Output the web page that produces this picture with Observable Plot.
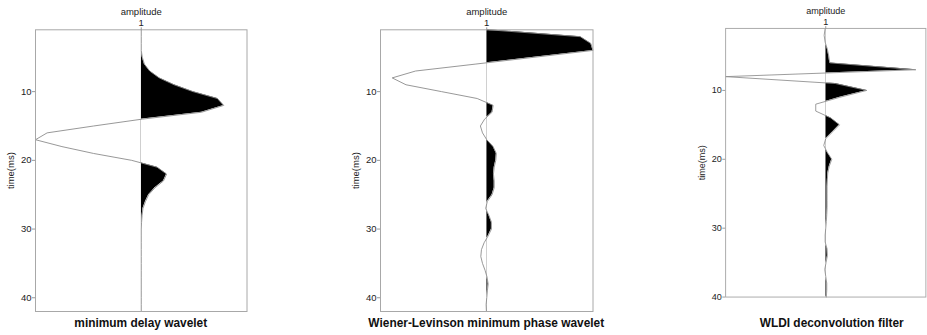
<!DOCTYPE html>
<html>
<head>
<meta charset="utf-8">
<script src="https://cdn.jsdelivr.net/npm/d3@7"></script>
<script src="https://cdn.jsdelivr.net/npm/@observablehq/plot@0.6"></script>
<style>
  html, body { margin: 0; padding: 0; background: #fff; }
  body { width: 927px; height: 335px; overflow: hidden; position: relative;
         font-family: "Liberation Sans", Arial, Helvetica, sans-serif; }
  .panel { position: absolute; top: 0; }
  .title { position: absolute; top: 315px; width: 320px; text-align: center;
           font-weight: bold; font-size: 11.9px; color: #111; line-height: 16px; }
</style>
</head>
<body>
<script>
// Sample times (ms) for each trace
const minDelayTime = [1,2,3,4,5,6,7,8,9,10,11,12,13,14,15,16,17,18,19,20,21,22,23,24,25,26,27,28,29,30,31,32,33,34,35,36,37,38,39,40,41,42];
const wienerTime   = [1,2,3,4,5,6,7,8,9,10,11,12,13,14,15,16,17,18,19,20,21,22,23,24,25,26,27,28,29,30,31,32,33,34,35,36,37,38,39,40,41,42];
const wldiTime     = [1,2,3,4,5,6,7,8,9,10,11,12,13,14,15,16,17,18,19,20,21,22,23,24,25,26,27,28,29,30,31,32,33,34,35,36,37,38,39,40];

// Normalised trace amplitudes
const minDelayAmp = [0,0,0,0,0.01,0.03,0.08,0.17,0.31,0.49,0.72,0.78,0.57,0.01,-0.45,-0.89,-1.0,-0.75,-0.45,-0.09,0.15,0.24,0.21,0.13,0.07,0.04,0.016,0.008,0.003,0,0,0,0,0,0,0,0,0,0,0,0,0];
const wienerAmp   = [0.02,0.88,0.98,1.0,0.445,-0.11,-0.67,-0.89,-0.76,-0.425,-0.09,0.06,0.05,-0.02,-0.06,-0.04,0.0,0.06,0.09,0.085,0.07,0.063,0.07,0.07,0.05,0.005,-0.01,0.02,0.044,0.044,0.013,-0.025,-0.05,-0.056,-0.04,-0.016,0.003,0.013,0.006,0.0,-0.006,-0.003];
const wldiAmp     = [-0.006,-0.016,-0.006,0.016,0.03,0.04,0.9,-1.0,0.095,0.41,0.14,-0.1,-0.1,0.05,0.137,0.07,0.0,-0.02,0.016,0.06,0.035,0.02,0.016,0.013,0.013,0.013,0.013,0.01,0.006,0.0,-0.006,-0.006,0.013,0.016,0.003,-0.01,0.0,0.01,0.01,0.006];

// Axis tick values and labels
const ampTicks = [1];
const timeTicks = [10, 20, 30, 40];
const ampLabel = "amplitude";
const timeLabel = "time(ms)";

const panels = [
  {time: minDelayTime, amp: minDelayAmp, tMax: 42, frameLeft: 35,    frameWidth: 211.5, title: "minimum delay wavelet"},
  {time: wienerTime,   amp: wienerAmp,   tMax: 42, frameLeft: 380,   frameWidth: 212.5, title: "Wiener-Levinson minimum phase wavelet"},
  {time: wldiTime,     amp: wldiAmp,     tMax: 40, frameLeft: 726.7, frameWidth: 210,   title: "WLDI deconvolution filter"}
];

const marginLeft = 40;
const svgHeight = 315;

panels.forEach((p, k) => {
  // Wiggle trace offset onto its baseline at amplitude 1
  const data = p.time.map((t, i) => ({t, a: 1 + p.amp[i]}));
  const chart = Plot.plot({
    width: marginLeft + p.frameWidth + 2,
    height: svgHeight,
    marginLeft, marginRight: 2, marginTop: 29.3, marginBottom: 4,
    style: {fontFamily: "'Liberation Sans', Arial, Helvetica, sans-serif", fontSize: "9.5px", color: "#222", background: "transparent", overflow: "visible"},
    x: {domain: [0, 2]},
    y: {domain: [1, p.tMax], reverse: true},
    marks: [
      Plot.areaX(data, {y: "t", x1: 1, x2: "a", fill: "black"}),
      Plot.lineX(data, {x: "a", y: "t", stroke: "#8c8c8c", strokeWidth: 0.9}),
      Plot.frame({stroke: "#a8a8a8"}),
      Plot.axisX({anchor: "top", ticks: ampTicks, tickFormat: d => String(d), tickSize: 3, tickPadding: 1, stroke: "#999",
                  label: ampLabel, labelAnchor: "center", labelOffset: 22, labelArrow: "none"}),
      Plot.axisY({anchor: "left", ticks: timeTicks, tickSize: 3, tickPadding: 1, stroke: "#999",
                  label: timeLabel, labelAnchor: "center", labelOffset: 28, labelArrow: "none"})
    ]
  });

  // Fill only the positive lobes: clip the area to the right of the baseline
  const x0 = chart.scale("x").apply(1);
  const svg = d3.select(chart);
  const id = "pos-clip-" + k;
  svg.insert("defs", ":first-child").append("clipPath").attr("id", id)
    .append("rect").attr("x", x0).attr("y", 0).attr("width", 1000).attr("height", svgHeight);
  svg.select('g[aria-label="area"]').attr("clip-path", `url(#${id})`);

  const holder = document.createElement("div");
  holder.className = "panel";
  holder.style.left = (p.frameLeft - marginLeft) + "px";
  holder.appendChild(chart);
  document.body.appendChild(holder);

  const center = p.frameLeft + p.frameWidth / 2;
  const t = document.createElement("div");
  t.className = "title";
  t.style.left = (center - 160) + "px";
  t.textContent = p.title;
  document.body.appendChild(t);
});
</script>
</body>
</html>
